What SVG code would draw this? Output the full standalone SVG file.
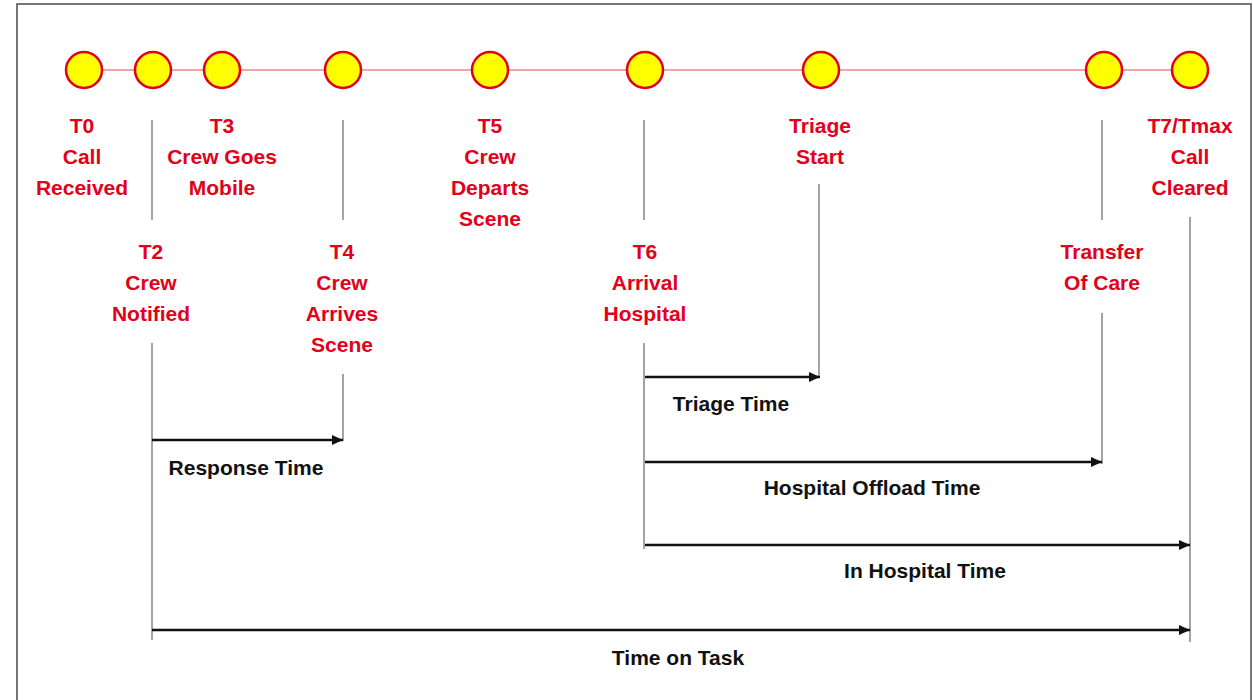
<svg xmlns="http://www.w3.org/2000/svg" width="1253" height="700" viewBox="0 0 1253 700">
<defs>
<style>
.lbl{font-family:"Liberation Sans",Arial,sans-serif;font-weight:bold;font-size:21px;fill:#e2001a;text-anchor:middle}
.dur{font-family:"Liberation Sans",Arial,sans-serif;font-weight:bold;font-size:21px;fill:#111;text-anchor:middle}
.dot{fill:#ffff00;stroke:#e2001a;stroke-width:2.5}
.tick{stroke:#8c8c8c;stroke-width:1.6;fill:none}
.arr{stroke:#111;stroke-width:2.6;fill:none;marker-end:url(#ah)}
</style>
<marker id="ah" markerUnits="userSpaceOnUse" markerWidth="12" markerHeight="10" refX="11" refY="5" orient="auto">
<path d="M0,0 L11,5 L0,10 Z" fill="#111"/>
</marker>
</defs>
<rect x="0" y="0" width="1253" height="700" fill="#fff"/>
<rect x="17" y="4" width="1234" height="720" fill="none" stroke="#555" stroke-width="1.6"/>
<line x1="84" y1="70" x2="1190" y2="70" stroke="#ee8a8a" stroke-width="1.6"/>

<g id="T0"><circle class="dot" cx="84" cy="70" r="18"/>
<text class="lbl" x="82" y="133">T0</text><text class="lbl" x="82" y="164">Call</text><text class="lbl" x="82" y="195">Received</text></g>

<g id="T2"><circle class="dot" cx="153" cy="70" r="18"/>
<text class="lbl" x="151" y="259">T2</text><text class="lbl" x="151" y="290">Crew</text><text class="lbl" x="151" y="321">Notified</text></g>

<g id="T3"><circle class="dot" cx="222" cy="70" r="18"/>
<text class="lbl" x="222" y="133">T3</text><text class="lbl" x="222" y="164">Crew Goes</text><text class="lbl" x="222" y="195">Mobile</text></g>

<g id="T4"><circle class="dot" cx="343" cy="70" r="18"/>
<text class="lbl" x="342" y="259">T4</text><text class="lbl" x="342" y="290">Crew</text><text class="lbl" x="342" y="321">Arrives</text><text class="lbl" x="342" y="352">Scene</text></g>

<g id="T5"><circle class="dot" cx="490" cy="70" r="18"/>
<text class="lbl" x="490" y="133">T5</text><text class="lbl" x="490" y="164">Crew</text><text class="lbl" x="490" y="195">Departs</text><text class="lbl" x="490" y="226">Scene</text></g>

<g id="T6"><circle class="dot" cx="645" cy="70" r="18"/>
<text class="lbl" x="645" y="259">T6</text><text class="lbl" x="645" y="290">Arrival</text><text class="lbl" x="645" y="321">Hospital</text></g>

<g id="Triage"><circle class="dot" cx="821" cy="70" r="18"/>
<text class="lbl" x="820" y="133">Triage</text><text class="lbl" x="820" y="164">Start</text></g>

<g id="Transfer"><circle class="dot" cx="1104" cy="70" r="18"/>
<text class="lbl" x="1102" y="259">Transfer</text><text class="lbl" x="1102" y="290">Of Care</text></g>

<g id="T7"><circle class="dot" cx="1190" cy="70" r="18"/>
<text class="lbl" x="1190" y="133">T7/Tmax</text><text class="lbl" x="1190" y="164">Call</text><text class="lbl" x="1190" y="195">Cleared</text></g>

<g id="connectors">
<line class="tick" x1="152" y1="120" x2="152" y2="220"/>
<line class="tick" x1="152" y1="343" x2="152" y2="640"/>
<line class="tick" x1="343" y1="120" x2="343" y2="220"/>
<line class="tick" x1="343" y1="374" x2="343" y2="441"/>
<line class="tick" x1="644" y1="120" x2="644" y2="220"/>
<line class="tick" x1="644" y1="343" x2="644" y2="549"/>
<line class="tick" x1="819" y1="184" x2="819" y2="378"/>
<line class="tick" x1="1102" y1="120" x2="1102" y2="220"/>
<line class="tick" x1="1102" y1="313" x2="1102" y2="464"/>
<line class="tick" x1="1190" y1="217" x2="1190" y2="642"/>
<line class="arr" x1="152" y1="440" x2="343" y2="440"/>
<line class="arr" x1="645" y1="377" x2="820" y2="377"/>
<line class="arr" x1="645" y1="462" x2="1102" y2="462"/>
<line class="arr" x1="645" y1="545" x2="1190" y2="545"/>
<line class="arr" x1="152" y1="630" x2="1190" y2="630"/>
</g>

<g id="durations">
<text class="dur" x="246" y="475">Response Time</text>
<text class="dur" x="731" y="411">Triage Time</text>
<text class="dur" x="872" y="495">Hospital Offload Time</text>
<text class="dur" x="925" y="578">In Hospital Time</text>
<text class="dur" x="678" y="665">Time on Task</text>
</g>
</svg>
